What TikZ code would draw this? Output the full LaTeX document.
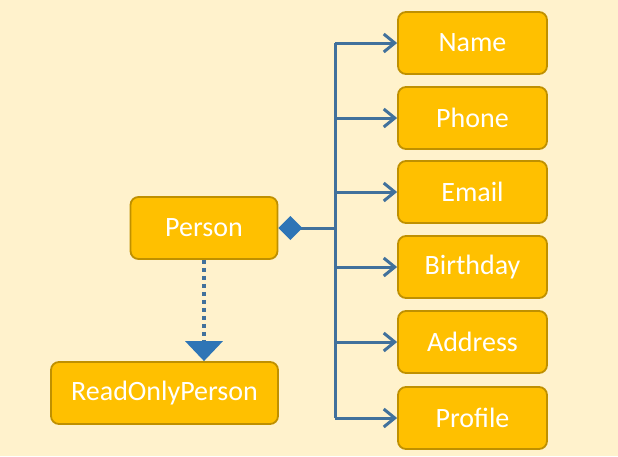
\documentclass[tikz,border=0pt]{standalone}
\usepackage{fontspec}
\setmainfont{Carlito}
\usetikzlibrary{arrows.meta}
\definecolor{bgcol}{HTML}{FFF2CC}
\definecolor{boxcol}{HTML}{FFC000}
\definecolor{boxline}{HTML}{BF9000}
\definecolor{linecol}{HTML}{41719C}
\definecolor{tipcol}{HTML}{2E75B6}
\tikzset{
    classbox/.style={draw=boxline, line width=1.8pt, fill=boxcol, rounded corners=8pt,
        text=white, minimum height=62pt, inner sep=0pt},
    conn/.style={draw=linecol, line width=3pt},
    has/.style={conn, -{Straight Barb[length=11pt,width=18pt,line width=3pt]}}
}
\begin{document}
\begin{tikzpicture}[x=1pt, y=-1pt, font=\fontsize{28}{32}\selectfont]
    \useasboundingbox[fill=bgcol] (0,0) rectangle (618,456);
    \node[classbox, minimum width=147pt] (person) at (204,228) {Person};
    \node[classbox, minimum width=227pt] (readonly) at (164.5,393) {ReadOnlyPerson};
    \node[classbox, minimum width=149pt] (name) at (472.5,43) {Name};
    \node[classbox, minimum width=149pt] (phone) at (472.5,118) {Phone};
    \node[classbox, minimum width=149pt] (email) at (472.5,192) {Email};
    \node[classbox, minimum width=149pt] (birthday) at (472.5,267) {Birthday};
    \node[classbox, minimum width=149pt] (address) at (472.5,342) {Address};
    \node[classbox, minimum width=149pt] (profile) at (472.5,418) {Profile};
    \coordinate (trunk) at (335,228);
    \draw[conn] (trunk |- name.west) -- (trunk |- profile.west);
    \draw[conn, {Diamond[length=24pt,width=24pt,fill=tipcol,color=tipcol]}-] (person.east) -- (trunk);
    \draw[has] (trunk |- name.west) -- (name.west);
    \draw[has] (trunk |- phone.west) -- (phone.west);
    \draw[has] (trunk |- email.west) -- (email.west);
    \draw[has] (trunk |- birthday.west) -- (birthday.west);
    \draw[has] (trunk |- address.west) -- (address.west);
    \draw[has] (trunk |- profile.west) -- (profile.west);
    \draw[draw=linecol, line width=4pt, dash pattern=on 4pt off 4pt,
        -{Triangle[length=20pt,width=37pt,color=tipcol,fill=tipcol]}]
        (person.south) -- (person.south |- readonly.north);
\end{tikzpicture}
\end{document}
